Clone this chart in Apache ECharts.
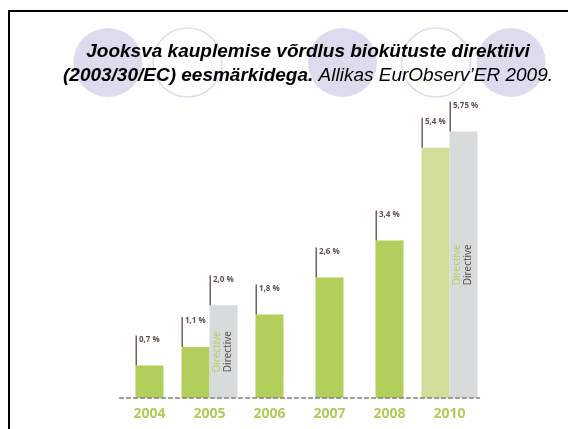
<!DOCTYPE html>
<html>
<head>
<meta charset="utf-8">
<script src="https://cdn.jsdelivr.net/npm/echarts@6/dist/echarts.min.js"></script>
<style>
html,body{margin:0;padding:0;background:#fff;}
#c{width:568px;height:429px;}
</style>
</head>
<body>
<div id="c"></div>
<script>
// ---- data ----
var years = ['2004', '2005', '2006', '2007', '2008', '2010'];
var actualShare = [0.7, 1.1, 1.8, 2.6, 3.4, 5.4];          // % of market
var directiveTarget = [null, 2.0, null, null, null, 5.75]; // directive goals
var projectedYears = ['2010'];
var directiveLabel = 'Directive';

function fmt(v) {
  var s = (Math.round(v) === v) ? v.toFixed(1) : String(v);
  return s.replace('.', ',') + ' %';
}

var chart = echarts.init(document.getElementById('c'), null, {renderer: 'canvas'});

var seriesData = years.map(function (y, i) { return [i, actualShare[i]]; });

var option = {
  backgroundColor: '#ffffff',
  animation: false,
  graphic: [
    // slide frame
    {type: 'line', shape: {x1: 9, y1: 11, x2: 568, y2: 11}, style: {stroke: '#000', lineWidth: 2}, z: 0},
    {type: 'line', shape: {x1: 9, y1: 10, x2: 9, y2: 429}, style: {stroke: '#000', lineWidth: 2}, z: 0},
    // decorative circles behind title
    {type: 'circle', shape: {cx: 108, cy: 62.5, r: 34.5}, style: {fill: '#dcdcef'}, z: -1},
    {type: 'circle', shape: {cx: 187.5, cy: 62.5, r: 34.5}, style: {fill: '#fff', stroke: '#dcdcef', lineWidth: 1.5}, z: -1},
    {type: 'circle', shape: {cx: 342.5, cy: 62.5, r: 34.5}, style: {fill: '#dcdcef'}, z: -1},
    {type: 'circle', shape: {cx: 436, cy: 62.5, r: 34.5}, style: {fill: '#fff', stroke: '#dcdcef', lineWidth: 1.5}, z: -1},
    {type: 'circle', shape: {cx: 511, cy: 62.5, r: 34.5}, style: {fill: '#dcdcef'}, z: -1}
  ],
  title: {
    text: '{b|Jooksva kauplemise võrdlus biokütuste direktiivi}\n{b|(2003/30/EC) eesmärkidega.}{i| Allikas EurObserv’ER 2009.}',
    left: 308,
    textAlign: 'center',
    top: 40,
    padding: 0,
    textStyle: {
      fontWeight: 'normal',
      rich: {
        b: {fontFamily: '"Liberation Sans", Arial, sans-serif', fontSize: 19, fontWeight: 'bold', fontStyle: 'italic', color: '#000', lineHeight: 24},
        i: {fontFamily: '"Liberation Sans", Arial, sans-serif', fontSize: 19, fontWeight: 'normal', fontStyle: 'italic', color: '#000', lineHeight: 24}
      }
    }
  },
  grid: {left: 119.5, width: 360, top: 120, bottom: 31, containLabel: false},
  xAxis: {
    type: 'category',
    data: years,
    z: 5,
    axisTick: {show: false},
    axisLine: {show: true, lineStyle: {color: '#85807a', width: 1.5, type: [4, 3]}},
    axisLabel: {color: '#b1cb59', fontFamily: '"Open Sans", sans-serif', fontWeight: 'bold', fontSize: 14, margin: 9},
    splitLine: {show: false}
  },
  yAxis: {type: 'value', min: 0, max: 6, show: false},
  series: [{
    type: 'custom',
    data: seriesData,
    encode: {x: 0, y: 1},
    clip: false,
    renderItem: function (params, api) {
      var i = params.dataIndex;
      var a = actualShare[i];
      var d = directiveTarget[i];
      var base = api.coord([i, 0]);
      var cx = base[0], y0 = base[1];
      var bw = api.size([1, 0])[0] * 0.467;
      var children = [];
      var projected = projectedYears.indexOf(years[i]) >= 0;
      function bar(x, v, color) {
        var top = api.coord([i, v])[1];
        children.push({type: 'rect', shape: {x: x, y: top, width: bw, height: y0 - top}, style: {fill: color}});
        children.push({type: 'line', shape: {x1: x + 0.75, y1: top, x2: x + 0.75, y2: top - 30}, style: {stroke: '#6e6259', lineWidth: 1.5}});
        children.push({type: 'text', x: x + 3.5, y: top - 26, style: {text: fmt(v), fill: '#5c524a', font: 'bold 8px "Open Sans", sans-serif', verticalAlign: 'middle', align: 'left'}});
        return top;
      }
      if (d != null) {
        bar(cx - bw, a, projected ? '#d2dd9b' : '#b3cf5b');
        var dtop = bar(cx, d, '#d6dcdc');
        var my = (dtop + y0) / 2;
        children.push({type: 'text', x: cx + 8, y: my, rotation: Math.PI / 2,
          style: {text: directiveLabel, fill: '#b3cf5b', font: '10px "Open Sans", sans-serif', align: 'center', verticalAlign: 'middle'}});
        children.push({type: 'text', x: cx + 19, y: my, rotation: Math.PI / 2,
          style: {text: directiveLabel, fill: '#4e4a47', font: '10px "Open Sans", sans-serif', align: 'center', verticalAlign: 'middle'}});
      } else {
        bar(cx - bw / 2, a, projected ? '#d2dd9b' : '#b3cf5b');
      }
      return {type: 'group', children: children};
    }
  }]
};
chart.setOption(option);
</script>
</body>
</html>
